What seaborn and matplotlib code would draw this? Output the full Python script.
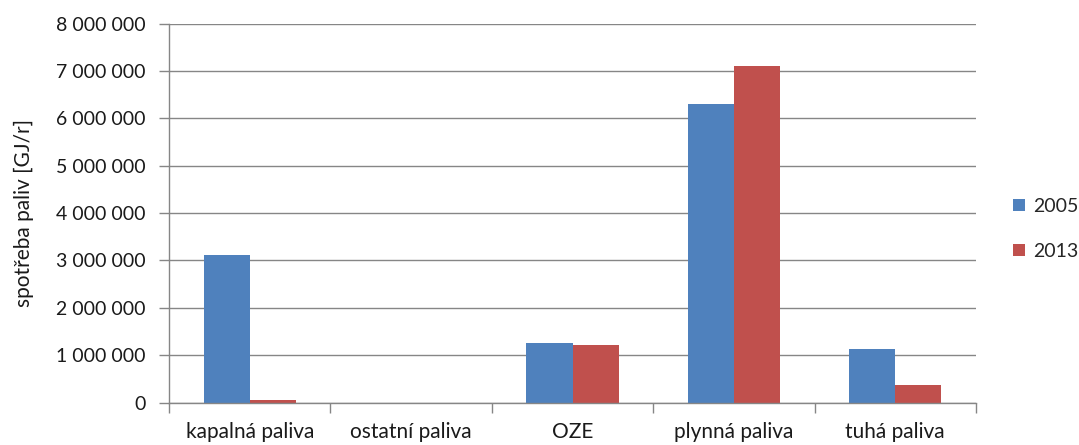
import matplotlib
matplotlib.use("Agg")
import matplotlib.pyplot as plt
import matplotlib.ticker as mticker
import seaborn as sns
import pandas as pd

categories = ["kapalná paliva", "ostatní paliva", "OZE", "plynná paliva", "tuhá paliva"]
years = ["2005", "2013"]
values_2005 = [3120000, 0, 1255000, 6310000, 1120000]
values_2013 = [45000, 0, 1210000, 7110000, 380000]
colors = ["#4F81BD", "#C0504D"]

df = pd.DataFrame({
    "kategorie": categories * 2,
    "rok": [years[0]] * len(categories) + [years[1]] * len(categories),
    "hodnota": values_2005 + values_2013,
})

sns.set_theme(style="white")
plt.rcParams["font.family"] = ["Lato", "DejaVu Sans"]

fig = plt.figure(figsize=(10.79, 4.45), dpi=100)
ax = fig.add_axes([169 / 1079, 1 - 402.5 / 445, (976 - 169) / 1079, (402.5 - 23.7) / 445])

sns.barplot(data=df, x="kategorie", y="hodnota", hue="rok", order=categories,
            hue_order=years, palette=colors, width=0.572, gap=0, saturation=1,
            ax=ax, linewidth=0, legend=True)

grid_c = "#868686"
txt_c = "#1a1a1a"
ax.set_xlim(-0.5, len(categories) - 0.5)
ax.set_ylim(0, 8000000)
ax.yaxis.set_major_locator(mticker.MultipleLocator(1000000))
ax.yaxis.set_major_formatter(mticker.FuncFormatter(lambda v, p: f"{int(round(v)):,}".replace(",", " ")))
ax.grid(axis="y", color=grid_c, linewidth=1.0)
ax.set_axisbelow(True)
for s in ["top", "right"]:
    ax.spines[s].set_visible(False)
for s in ["left", "bottom"]:
    ax.spines[s].set_color(grid_c)
    ax.spines[s].set_linewidth(1.0)

ax.xaxis.set_minor_locator(mticker.FixedLocator([i - 0.5 for i in range(len(categories) + 1)]))
ax.tick_params(axis="x", which="major", length=0, labelsize=15, pad=14, colors=txt_c)
ax.tick_params(axis="x", which="minor", length=7, width=1, color=grid_c, direction="out", bottom=True)
ax.tick_params(axis="y", which="major", length=7, width=1, color=grid_c, direction="out",
               labelsize=14, pad=10, left=True, labelcolor=txt_c)
ax.set_xlabel("")
ax.set_ylabel("spotřeba paliv [GJ/r]", fontsize=15, color=txt_c, labelpad=16)

ax.legend(loc="center left", bbox_to_anchor=(1013 / 1079, 1 - 229 / 445),
          bbox_transform=fig.transFigure, frameon=False, fontsize=14,
          handlelength=0.6, handleheight=0.6, handletextpad=0.45, labelspacing=1.45,
          borderaxespad=0, borderpad=0)

fig.savefig("out.png", dpi=100, facecolor="white")
